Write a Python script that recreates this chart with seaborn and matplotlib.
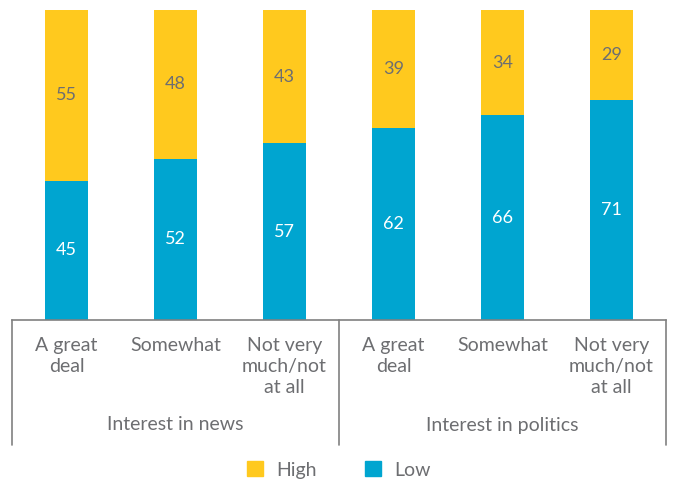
import matplotlib
matplotlib.use("Agg")
import matplotlib.pyplot as plt
import matplotlib.patches as mpatches
import numpy as np
import pandas as pd
import seaborn as sns

# Chart data
GROUPS = ["Interest in news", "Interest in politics"]
LEVELS = ["A great\ndeal", "Somewhat", "Not very\nmuch/not\nat all"]
HIGH = [55, 48, 43, 39, 34, 29]
LOW = [45, 52, 57, 62, 66, 71]

HIGH_COLOR = "#FFC91E"
LOW_COLOR = "#00A5D0"
TEXT_COLOR = "#6D6E71"

sns.set_theme(style="white")
plt.rcParams["font.family"] = ["Lato", "DejaVu Sans"]

# Build data frame with one row per bar
keys = [f"{g}|{l}" for g in GROUPS for l in LEVELS]
df = pd.DataFrame({
    "key": keys,
    "high": HIGH,
    "low": LOW,
})
df["total"] = df["high"] + df["low"]

fig = plt.figure(figsize=(6.78, 4.84), dpi=100)
ax = fig.add_axes([12 / 678, 1 - 320 / 484, 654 / 678, 310 / 484])

# Stacked bars: total (yellow) behind, low (blue) in front
sns.barplot(data=df, x="key", y="total", order=keys, color=HIGH_COLOR,
            width=0.4, saturation=1, linewidth=0, ax=ax)
sns.barplot(data=df, x="key", y="low", order=keys, color=LOW_COLOR,
            width=0.4, saturation=1, linewidth=0, ax=ax)

ax.set_xlim(-0.5, len(keys) - 0.5)
ax.set_ylim(0, 100)

# Value labels centred in each segment
for i, (lo, hi) in enumerate(zip(LOW, HIGH)):
    ax.text(i, lo / 2, f"{lo}", ha="center", va="center",
            color="white", fontsize=13)
    ax.text(i, lo + min(hi, 100 - lo) / 2, f"{hi}", ha="center",
            va="center", color=TEXT_COLOR, fontsize=13)

# Axes cosmetics
for side in ["top", "right", "left"]:
    ax.spines[side].set_visible(False)
ax.spines["bottom"].set_color("#808080")
ax.spines["bottom"].set_linewidth(1.2)
ax.set_yticks([])
ax.set_xlabel("")
ax.set_ylabel("")
ax.set_xticks(range(len(keys)))
ax.set_xticklabels(LEVELS * len(GROUPS), color=TEXT_COLOR, fontsize=14,
                   va="top", linespacing=1.3)
ax.tick_params(axis="x", length=0, pad=12)

# Group separators and group labels
box_bottom = -125 / 310
for x in [-0.5, 2.5, 5.5]:
    ax.plot([x, x], [0, box_bottom], transform=ax.get_xaxis_transform(),
            color="#808080", lw=1.2, clip_on=False)
for j, g in enumerate(GROUPS):
    ax.text(j * 3 + 1, -105 / 310, g, transform=ax.get_xaxis_transform(),
            ha="center", va="center", color=TEXT_COLOR, fontsize=14)

# Legend
handles = [mpatches.Patch(color=HIGH_COLOR, label="High"),
           mpatches.Patch(color=LOW_COLOR, label="Low")]
leg = fig.legend(handles=handles, loc="center", bbox_to_anchor=(0.5, 1 - 470 / 484),
                 ncol=2, frameon=False, fontsize=14, handlelength=0.8,
                 handleheight=0.8, columnspacing=2.5, handletextpad=0.7)
for t in leg.get_texts():
    t.set_color(TEXT_COLOR)

fig.savefig("out.png", dpi=100)
